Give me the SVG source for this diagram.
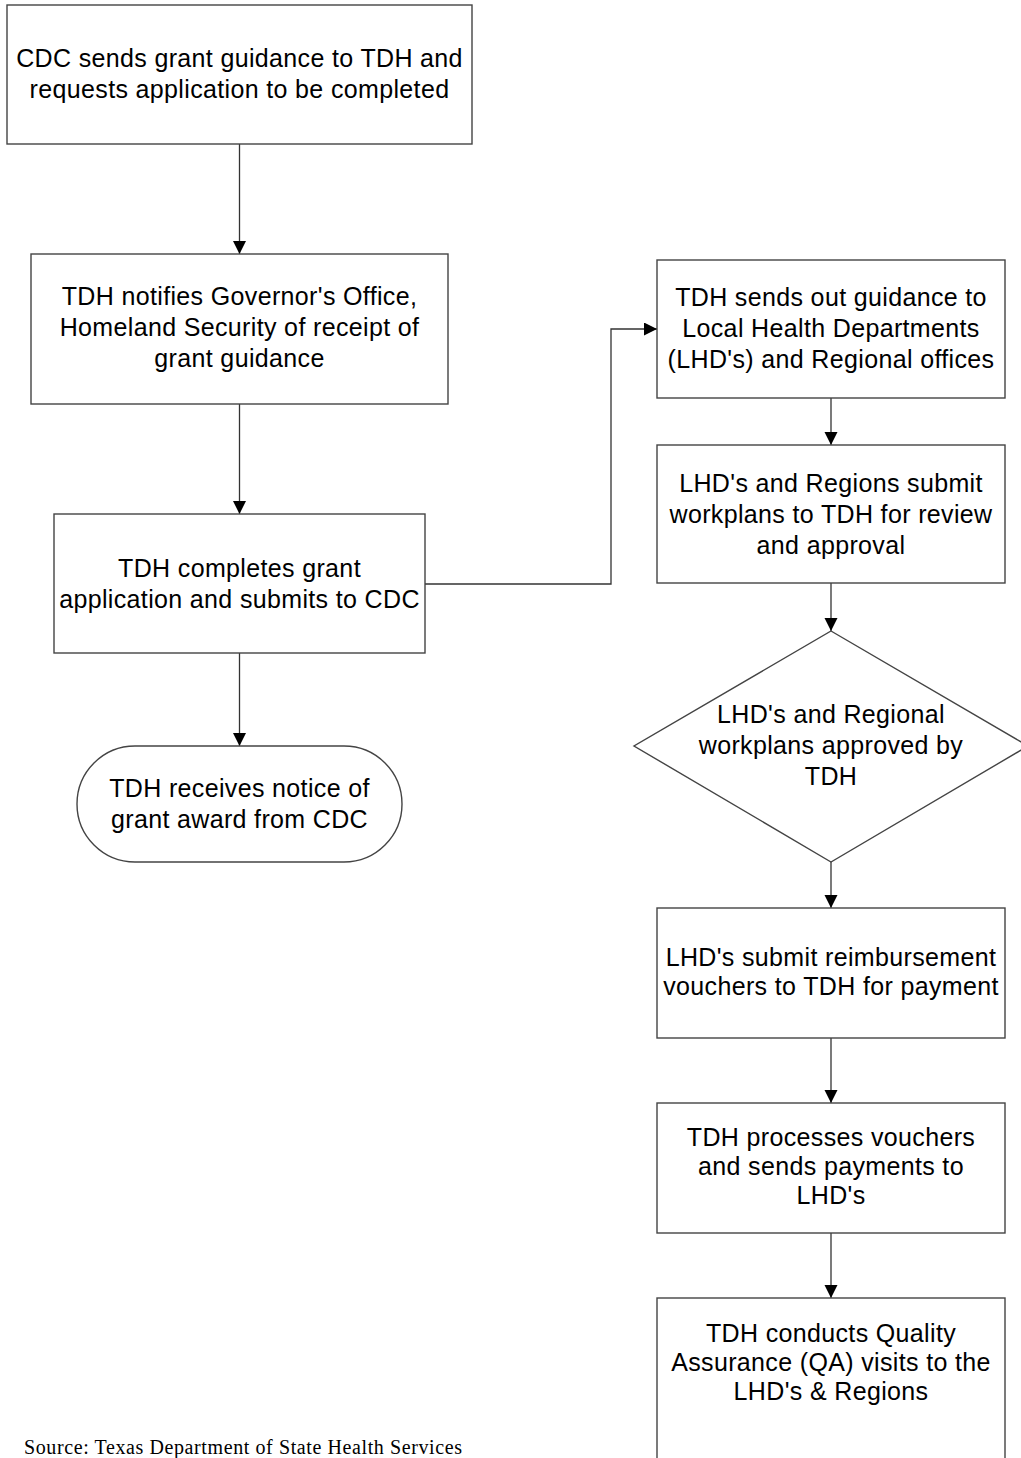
<svg xmlns="http://www.w3.org/2000/svg" width="1021" height="1458" viewBox="0 0 1021 1458">
<defs>
<marker id="arr" markerUnits="userSpaceOnUse" markerWidth="14" markerHeight="14" refX="13" refY="6.5" orient="auto">
<path d="M0,0 L13,6.5 L0,13 z" fill="#000"/>
</marker>
<style>
.box{fill:#fff;stroke:#444;stroke-width:1.4}
.t{font-family:"Liberation Sans",Arial,sans-serif;font-size:25px;letter-spacing:0.35px;fill:#000;text-anchor:middle}
.c{fill:none;stroke:#333;stroke-width:1.3;marker-end:url(#arr)}
.src{font-family:"Liberation Serif","Times New Roman",serif;font-size:20px;fill:#000}
</style>
</defs>
<rect width="1021" height="1458" fill="#fff"/>
<g id="connectors">
<path class="c" d="M239.5,144 V254"/>
<path class="c" d="M239.5,404 V514"/>
<path class="c" d="M239.5,653 V746"/>
<path class="c" d="M425,584 H611 V329 H657"/>
<path class="c" d="M831,398 V445"/>
<path class="c" d="M831,583 V631"/>
<path class="c" d="M831,862 V908"/>
<path class="c" d="M831,1038 V1103"/>
<path class="c" d="M831,1233 V1298"/>
</g>
<g id="n1">
<rect class="box" x="7" y="5" width="465" height="139"/>
<text class="t" x="239.5" y="67">CDC sends grant guidance to TDH and</text>
<text class="t" x="239.5" y="98">requests application to be completed</text>
</g>
<g id="n2">
<rect class="box" x="31" y="254" width="417" height="150"/>
<text class="t" x="239.5" y="305">TDH notifies Governor's Office,</text>
<text class="t" x="239.5" y="336">Homeland Security of receipt of</text>
<text class="t" x="239.5" y="367">grant guidance</text>
</g>
<g id="n3">
<rect class="box" x="54" y="514" width="371" height="139"/>
<text class="t" x="239.5" y="577">TDH completes grant</text>
<text class="t" x="239.5" y="608">application and submits to CDC</text>
</g>
<g id="n4">
<rect class="box" x="77" y="746" width="325" height="116" rx="58" ry="58"/>
<text class="t" x="239.5" y="797">TDH receives notice of</text>
<text class="t" x="239.5" y="828">grant award from CDC</text>
</g>
<g id="n5">
<rect class="box" x="657" y="260" width="348" height="138"/>
<text class="t" x="831" y="306">TDH sends out guidance to</text>
<text class="t" x="831" y="337">Local Health Departments</text>
<text class="t" x="831" y="368">(LHD's) and Regional offices</text>
</g>
<g id="n6">
<rect class="box" x="657" y="445" width="348" height="138"/>
<text class="t" x="831" y="492">LHD's and Regions submit</text>
<text class="t" x="831" y="523">workplans to TDH for review</text>
<text class="t" x="831" y="554">and approval</text>
</g>
<g id="n7">
<polygon class="box" points="831,631 1028,746 831,862 634,746"/>
<text class="t" x="831" y="723">LHD's and Regional</text>
<text class="t" x="831" y="754">workplans approved by</text>
<text class="t" x="831" y="785">TDH</text>
</g>
<g id="n8">
<rect class="box" x="657" y="908" width="348" height="130"/>
<text class="t" x="831" y="966">LHD's submit reimbursement</text>
<text class="t" x="831" y="995">vouchers to TDH for payment</text>
</g>
<g id="n9">
<rect class="box" x="657" y="1103" width="348" height="130"/>
<text class="t" x="831" y="1146">TDH processes vouchers</text>
<text class="t" x="831" y="1175">and sends payments to</text>
<text class="t" x="831" y="1204">LHD's</text>
</g>
<g id="n10">
<rect class="box" x="657" y="1298" width="348" height="180"/>
<text class="t" x="831" y="1342">TDH conducts Quality</text>
<text class="t" x="831" y="1371">Assurance (QA) visits to the</text>
<text class="t" x="831" y="1400">LHD's &amp; Regions</text>
</g>
<text class="src" x="24" y="1454" textLength="438" lengthAdjust="spacing">Source: Texas Department of State Health Services</text>
</svg>
